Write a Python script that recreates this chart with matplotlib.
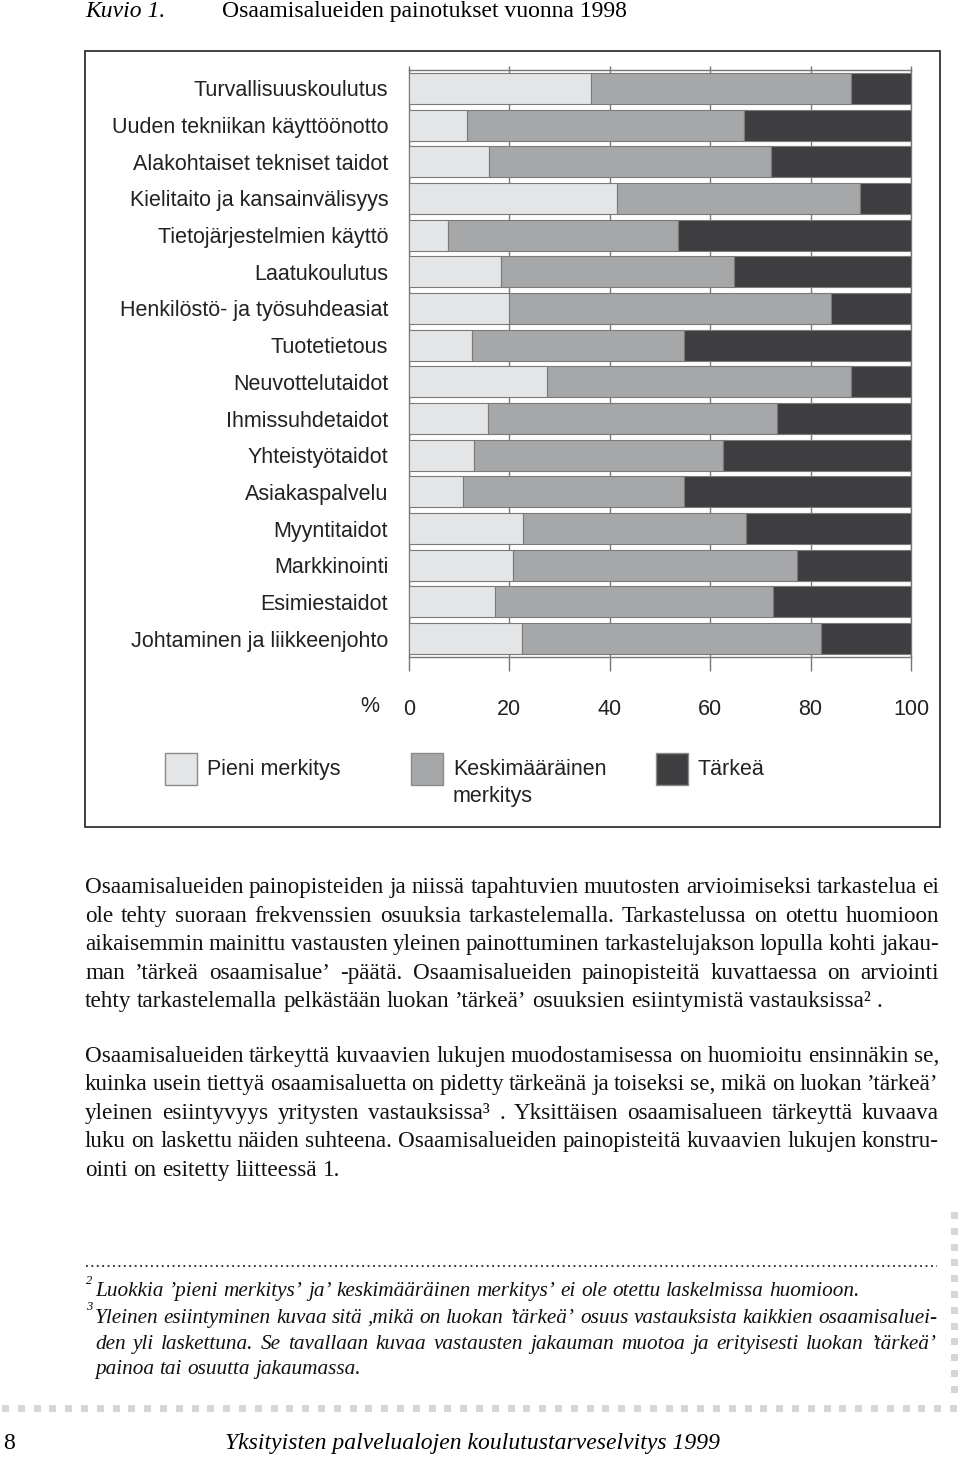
import matplotlib
matplotlib.use("Agg")
import matplotlib.pyplot as plt
from matplotlib.font_manager import FontProperties
from matplotlib.patches import Rectangle
import numpy as np

W, H = 960, 1457

# Kuvio 1 - osaamisalueet ylhäältä alas
osaamisalueet = [
    "Turvallisuuskoulutus",
    "Uuden tekniikan käyttöönotto",
    "Alakohtaiset tekniset taidot",
    "Kielitaito ja kansainvälisyys",
    "Tietojärjestelmien käyttö",
    "Laatukoulutus",
    "Henkilöstö- ja työsuhdeasiat",
    "Tuotetietous",
    "Neuvottelutaidot",
    "Ihmissuhdetaidot",
    "Yhteistyötaidot",
    "Asiakaspalvelu",
    "Myyntitaidot",
    "Markkinointi",
    "Esimiestaidot",
    "Johtaminen ja liikkeenjohto",
]
pieni = [36.2, 11.5, 15.9, 41.5, 7.7, 18.4, 19.9, 12.6, 27.4, 15.7, 13.0, 10.7, 22.8, 20.8, 17.1, 22.6]
keskimaarainen = [51.8, 55.3, 56.2, 48.3, 45.9, 46.3, 64.1, 42.1, 60.6, 57.7, 49.6, 44.1, 44.3, 56.4, 55.5, 59.5]
tarkea = [12.0, 33.2, 27.9, 10.2, 46.4, 35.3, 16.0, 45.3, 12.0, 26.6, 37.4, 45.2, 32.9, 22.8, 27.4, 17.9]

luokat = ["Pieni merkitys", "Keskimääräinen\nmerkitys", "Tärkeä"]
varit = ["#e4e5e6", "#a6a7a9", "#3e3e41"]
x_ticks = [0, 20, 40, 60, 80, 100]

kappale1 = [
    "Osaamisalueiden painopisteiden ja niissä tapahtuvien muutosten arvioimiseksi tarkastelua ei",
    "ole tehty suoraan frekvenssien osuuksia tarkastelemalla. Tarkastelussa on otettu huomioon",
    "aikaisemmin mainittu vastausten yleinen painottuminen tarkastelujakson lopulla kohti jakau-",
    "man ’tärkeä osaamisalue’ -päätä. Osaamisalueiden painopisteitä kuvattaessa on arviointi",
    "tehty tarkastelemalla pelkästään luokan ’tärkeä’ osuuksien esiintymistä vastauksissa² .",
]
kappale2 = [
    "Osaamisalueiden tärkeyttä kuvaavien lukujen muodostamisessa on huomioitu ensinnäkin se,",
    "kuinka usein tiettyä osaamisaluetta on pidetty tärkeänä ja toiseksi se, mikä on luokan ’tärkeä’",
    "yleinen esiintyvyys yritysten vastauksissa³ . Yksittäisen osaamisalueen tärkeyttä kuvaava",
    "luku on laskettu näiden suhteena. Osaamisalueiden painopisteitä kuvaavien lukujen konstru-",
    "ointi on esitetty liitteessä 1.",
]
alaviite2 = ["Luokkia ’pieni merkitys’ ja’ keskimääräinen merkitys’ ei ole otettu laskelmissa huomioon."]
alaviite3 = [
    "Yleinen esiintyminen kuvaa sitä ,mikä on luokan ’tärkeä’ osuus vastauksista kaikkien osaamisaluei-",
    "den yli laskettuna. Se tavallaan kuvaa vastausten jakauman muotoa ja erityisesti luokan ’tärkeä’",
    "painoa tai osuutta jakaumassa.",
]

fig = plt.figure(figsize=(W / 100, H / 100), dpi=100)
fig.patch.set_facecolor("white")
renderer = fig.canvas.get_renderer()

# koko sivun akseli pikselikoordinaateilla
sivu = fig.add_axes([0, 0, 1, 1])
sivu.set_xlim(0, W)
sivu.set_ylim(H, 0)
sivu.axis("off")

serif = FontProperties(family="Liberation Serif", size=16.7)
otsikko = FontProperties(family="Liberation Serif", size=17)
otsikko_i = FontProperties(family="Liberation Serif", style="italic", size=17)
viite_i = FontProperties(family="Liberation Serif", style="italic", size=15.3)
sans = FontProperties(family="Liberation Sans", size=15.5)


def leveys(s, fp):
    return renderer.get_text_width_height_descent(s, fp, ismath=False)[0]


def rivi(teksti, x0, x1, y, fp, tasaa=True):
    sanat = teksti.split()
    lev = [leveys(s, fp) for s in sanat]
    if tasaa and len(sanat) > 1:
        vali = (x1 - x0 - sum(lev)) / (len(sanat) - 1)
    else:
        vali = leveys("a a", fp) - leveys("aa", fp)
    x = x0
    for s, w in zip(sanat, lev):
        sivu.text(x, y, s, fontproperties=fp, ha="left", va="baseline", color="#111111")
        x += w + vali


def kappale(rivit, x0, x1, y0, dy, fp):
    for i, r in enumerate(rivit):
        rivi(r, x0, x1, y0 + i * dy, fp, tasaa=(i < len(rivit) - 1))


# otsikko
sivu.text(85, 17, "Kuvio 1.", fontproperties=otsikko_i, ha="left", va="baseline")
sivu.text(222, 17, "Osaamisalueiden painotukset vuonna 1998", fontproperties=otsikko,
          ha="left", va="baseline")

# kuvion kehys
sivu.add_patch(Rectangle((85, 51), 855, 776, fill=False, edgecolor="#333333", lw=1.3))

# palkkikuvio
ax = fig.add_axes([409 / W, 1 - 657 / H, 502 / W, 587 / H])
y = np.arange(len(osaamisalueet))
alku = np.zeros(len(osaamisalueet))
for arvot, vari in zip([pieni, keskimaarainen, tarkea], varit):
    ax.barh(y, arvot, left=alku, height=0.845, color=vari, edgecolor="#7a7a7a",
            linewidth=0.8, zorder=3)
    alku = alku + np.array(arvot)

ax.set_xlim(0, 100)
ax.set_ylim(len(osaamisalueet) - 0.5, -0.5)
ax.set_yticks(y)
ax.set_yticklabels(osaamisalueet, fontproperties=sans, color="#222222")
ax.tick_params(axis="y", length=0, pad=15)
ax.set_xticks(x_ticks)
ax.set_xticklabels([str(v) for v in x_ticks], fontproperties=sans, color="#222222")
ax.tick_params(axis="x", direction="out", length=10, width=1, color="#777777",
               pad=20, top=True)
for t in ax.xaxis.get_major_ticks():
    t.tick2line.set_markersize(3)
ax.grid(axis="x", color="#7a7a7a", linewidth=1, zorder=0)
for sp in ax.spines.values():
    sp.set_color("#777777")
    sp.set_linewidth(1)
sivu.text(370, 707, "%", fontproperties=sans, ha="center", va="center", color="#222222")

# selite
for x0, vari, nimi in zip([165, 411, 656], varit, luokat):
    sivu.add_patch(Rectangle((x0, 753), 32, 32, facecolor=vari, edgecolor="#8a8a8a", lw=1))
    sivu.text(x0 + 42, 759, nimi, fontproperties=sans, ha="left", va="top",
              color="#222222", linespacing=1.35)

# leipäteksti
kappale(kappale1, 85, 939, 893, 28.6, serif)
kappale(kappale2, 85, 939, 1062, 28.4, serif)

# alaviitteet
sivu.plot([86, 937], [1266, 1266], color="#222222", lw=1.3, ls=(0, (1, 2)))
pieni_nro = FontProperties(family="Liberation Serif", style="italic", size=9)
sivu.text(86, 1281, "2", fontproperties=pieni_nro, ha="left", va="center")
sivu.text(86, 1307, "3", fontproperties=pieni_nro, ha="left", va="center")
kappale(alaviite2, 95, 866, 1296, 26, viite_i)
kappale(alaviite3, 95, 937, 1323, 25.7, viite_i)

# sivun koristeneliöt
for xx in np.arange(2, 952, 15.8):
    sivu.add_patch(Rectangle((xx, 1405), 7, 7, facecolor="#d6d6d6", edgecolor="none"))
for yy in np.arange(1212, 1400, 15.8):
    sivu.add_patch(Rectangle((951, yy), 7, 7, facecolor="#d6d6d6", edgecolor="none"))

# alatunniste
sivu.text(3, 1449, "8", fontproperties=FontProperties(family="Liberation Serif", size=17),
          ha="left", va="baseline")
sivu.text(225, 1449, "Yksityisten palvelualojen koulutustarveselvitys 1999",
          fontproperties=FontProperties(family="Liberation Serif", style="italic", size=17),
          ha="left", va="baseline")

fig.savefig("out.png", dpi=100)
